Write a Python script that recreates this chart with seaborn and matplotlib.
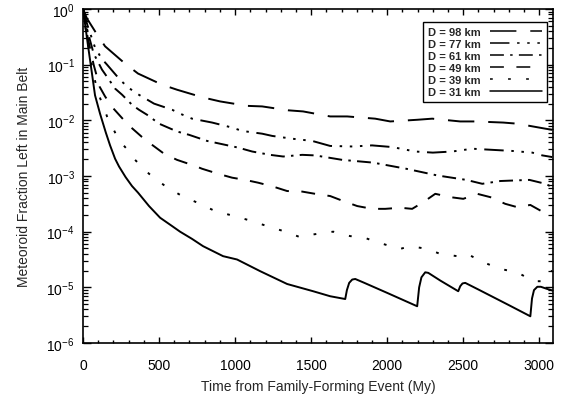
import numpy as np
import pandas as pd
import matplotlib
matplotlib.use("Agg")
import matplotlib.pyplot as plt
import matplotlib.ticker as mticker
import seaborn as sns

# ---- data (log10 of fraction) ----
labels = ["D = 98 km", "D = 77 km", "D = 61 km", "D = 49 km", "D = 39 km", "D = 31 km"]

t_98 = [0, 26, 79, 145, 276, 362, 520, 618, 790, 901, 1079, 1178, 1349, 1447, 1625, 1737,
        1921, 2020, 2197, 2296, 2480, 2579, 2763, 2855, 3040, 3085]
lg_98 = [0, -0.17, -0.40, -0.67, -0.98, -1.16, -1.36, -1.45, -1.59, -1.66, -1.74, -1.75, -1.82,
         -1.84, -1.93, -1.93, -1.97, -2.02, -1.99, -1.97, -2.02, -2.02, -2.04, -2.06, -2.15, -2.17]

t_77 = [0, 30, 80, 125, 158, 243, 289, 342, 467, 586, 638, 717, 849, 980, 1046, 1178, 1244,
        1375, 1441, 1507, 1625, 1776, 1900, 2033, 2184, 2300, 2428, 2560, 2690, 2823, 2954, 3020, 3085]
lg_77 = [0, -0.30, -0.70, -0.90, -1.00, -1.27, -1.39, -1.50, -1.70, -1.81, -1.88, -1.97, -2.04,
         -2.13, -2.19, -2.24, -2.28, -2.33, -2.35, -2.37, -2.46, -2.47, -2.45, -2.48, -2.56, -2.58,
         -2.56, -2.51, -2.53, -2.55, -2.58, -2.63, -2.66]

t_61 = [0, 30, 70, 125, 171, 211, 257, 322, 368, 421, 500, 618, 697, 816, 901, 1020, 1112, 1230,
        1316, 1441, 1526, 1704, 1908, 2125, 2329, 2520, 2625, 2744, 2935, 3040, 3085]
lg_61 = [0, -0.40, -0.80, -1.09, -1.27, -1.43, -1.54, -1.72, -1.81, -1.90, -2.06, -2.20, -2.26,
         -2.37, -2.42, -2.49, -2.56, -2.62, -2.65, -2.62, -2.63, -2.71, -2.76, -2.87, -2.99, -3.07,
         -3.14, -3.09, -3.07, -3.14, -3.20]

t_49 = [0, 30, 70, 110, 145, 191, 257, 309, 388, 454, 533, 618, 737, 783, 888, 980, 1066, 1151,
        1250, 1342, 1441, 1526, 1625, 1711, 1803, 1901, 1987, 2085, 2164, 2237, 2316, 2415, 2500,
        2592, 2678, 2776, 2855, 2941, 3026, 3073]
lg_49 = [0, -0.50, -1.00, -1.40, -1.57, -1.76, -1.96, -2.11, -2.30, -2.44, -2.60, -2.71, -2.82,
         -2.87, -2.96, -3.03, -3.07, -3.12, -3.19, -3.27, -3.28, -3.32, -3.36, -3.45, -3.54, -3.59,
         -3.59, -3.57, -3.59, -3.47, -3.32, -3.38, -3.41, -3.32, -3.38, -3.50, -3.56, -3.52, -3.65,
         -3.68]

t_39 = [0, 20, 50, 80, 105, 138, 158, 191, 224, 257, 303, 342, 434, 540, 651, 770, 868, 967, 1086,
        1211, 1342, 1428, 1513, 1645, 1757, 1842, 1934, 2085, 2151, 2263, 2349, 2461, 2526, 2632,
        2744, 2855, 2961, 3026, 3059, 3085]
lg_39 = [0, -0.40, -0.90, -1.30, -1.55, -1.78, -1.93, -2.11, -2.29, -2.42, -2.56, -2.71, -2.96,
         -3.18, -3.36, -3.50, -3.63, -3.70, -3.79, -3.90, -4.01, -4.10, -4.05, -4.00, -4.08, -4.10,
         -4.19, -4.31, -4.26, -4.31, -4.40, -4.44, -4.40, -4.55, -4.67, -4.73, -4.89, -4.89, -4.76,
         -4.70]

t_31 = [0, 15, 30, 59, 79, 112, 150, 178, 211, 237, 280, 322, 362, 434, 507, 586, 638, 717, 789,
        921, 1013, 1165, 1342, 1513, 1625, 1724, 1735, 1750, 1770, 1790, 1850, 2000, 2197, 2210,
        2225, 2250, 2270, 2350, 2467, 2480, 2495, 2513, 2600, 2800, 2941, 2952, 2965, 2987, 3010,
        3053, 3090]
lg_31 = [0, -0.30, -0.60, -1.16, -1.55, -1.88, -2.22, -2.45, -2.69, -2.83, -3.02, -3.18, -3.30,
         -3.54, -3.75, -3.90, -4.00, -4.13, -4.26, -4.44, -4.50, -4.71, -4.94, -5.07, -5.16, -5.21,
         -5.05, -4.92, -4.86, -4.85, -4.92, -5.10, -5.34, -5.00, -4.82, -4.73, -4.74, -4.88, -5.07,
         -4.98, -4.93, -4.92, -5.04, -5.32, -5.52, -5.20, -5.05, -4.99, -4.99, -5.03, -5.06]

x_ticks = [0, 500, 1000, 1500, 2000, 2500, 3000]

series = [(t_98, lg_98), (t_77, lg_77), (t_61, lg_61), (t_49, lg_49), (t_39, lg_39), (t_31, lg_31)]

# dash patterns in points (unscaled)
dash_styles = [
    (19, 10),
    (14, 5.5, 1.8, 5.5, 1.8, 5.5, 1.8, 5.5),
    (10, 4.5, 1.8, 4.5),
    (10, 9),
    (2.0, 11),
    None,
]

sns.set_theme(style="ticks")
plt.rcParams["font.family"] = ["Liberation Sans", "DejaVu Sans"]
plt.rcParams["lines.scale_dashes"] = False
plt.rcParams["mathtext.fontset"] = "custom"
plt.rcParams["mathtext.rm"] = "Liberation Sans"
plt.rcParams["mathtext.it"] = "Liberation Sans"
plt.rcParams["mathtext.bf"] = "Liberation Sans:bold"

fig = plt.figure(figsize=(5.66, 4.06), dpi=100)
ax = fig.add_axes([83 / 566, 62 / 406, 470 / 566, 334 / 406])

for lab, (tt, lg), ds in zip(labels, series, dash_styles):
    df = pd.DataFrame({"t": tt, "frac": np.power(10.0, lg)})
    sns.lineplot(data=df, x="t", y="frac", ax=ax, color="black", lw=1.4, label=lab,
                 estimator=None, sort=False)
    line = ax.lines[-1]
    if ds is not None:
        line.set_dashes(ds)
        line.set_dash_capstyle("butt")

ax.set_yscale("log")
ax.set_xlim(0, 3090)
ax.set_ylim(1e-6, 1.0)
ax.set_xticks(x_ticks)
ax.set_xticklabels([str(v) for v in x_ticks])
ax.xaxis.set_minor_locator(mticker.MultipleLocator(100))
ax.yaxis.set_major_locator(mticker.LogLocator(base=10, numticks=10))
ax.yaxis.set_minor_locator(mticker.LogLocator(base=10, subs=np.arange(2, 10), numticks=20))
ax.yaxis.set_minor_formatter(mticker.NullFormatter())

ax.tick_params(axis="both", which="both", direction="in", top=True, right=True,
               colors="black", labelsize=10)
ax.tick_params(axis="x", which="major", length=4, width=1.0, pad=11)
ax.tick_params(axis="x", which="minor", length=2.2, width=1.0)
ax.tick_params(axis="y", which="major", length=6, width=1.0, pad=6)
ax.tick_params(axis="y", which="minor", length=3.5, width=0.9)

for sp in ax.spines.values():
    sp.set_color("black")
    sp.set_linewidth(1.2)
    sp.set_visible(True)

ax.set_xlabel("Time from Family-Forming Event (My)", fontsize=10, labelpad=5)
ax.set_ylabel("Meteoroid Fraction Left in Main Belt", fontsize=10, labelpad=11)

leg = ax.legend(loc="upper right", bbox_to_anchor=(0.987, 0.961),
                prop={"size": 8, "weight": "bold"},
                markerfirst=False, handlelength=4.7, handletextpad=0.8,
                labelspacing=0.18, borderpad=0.45, fancybox=False, framealpha=1,
                edgecolor="black", borderaxespad=0)
leg.get_frame().set_linewidth(1.0)
for txt in leg.get_texts():
    txt.set_ha("left")
for h in leg.get_lines():
    h.set_linewidth(1.1)

fig.savefig("out.png", dpi=100, facecolor="white")
